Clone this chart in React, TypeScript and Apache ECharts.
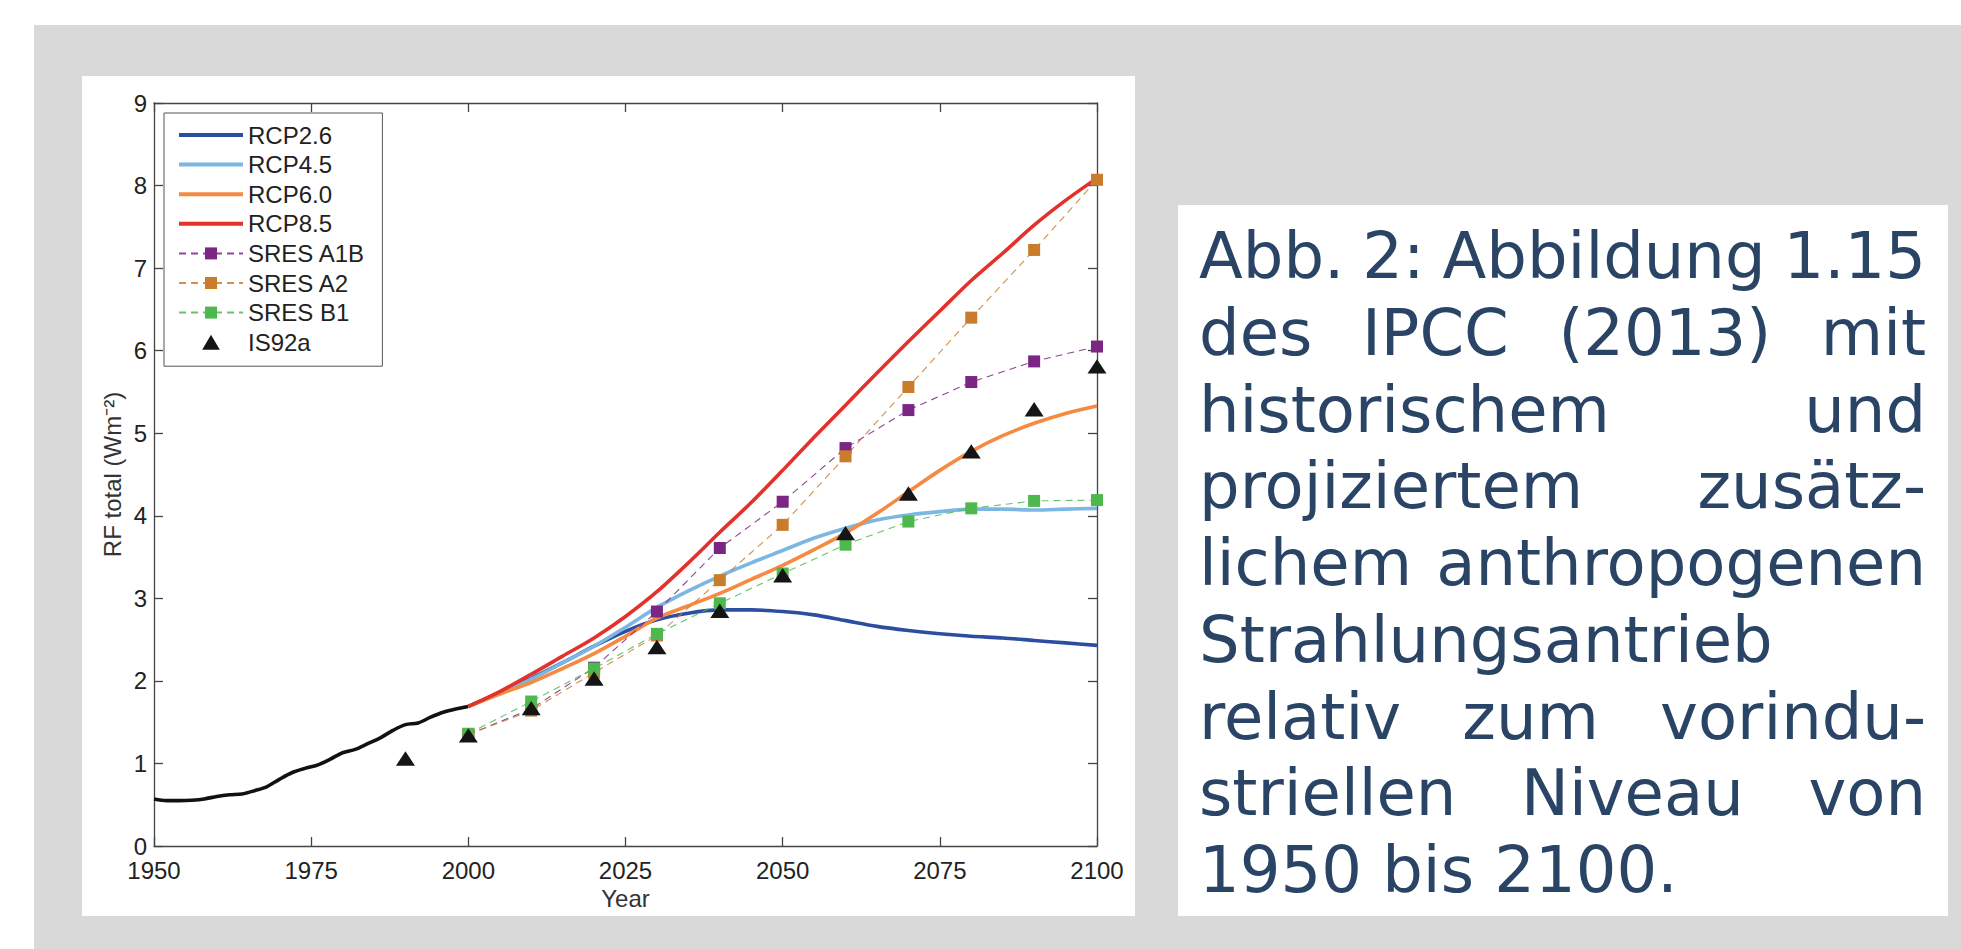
import React, { useEffect, useRef } from "react";
import * as echarts from "echarts";

// ---------- data ----------
const xTicks = [1950, 1975, 2000, 2025, 2050, 2075, 2100];

const histYears = [1950, 1952, 1954, 1956, 1958, 1960, 1962, 1964, 1966, 1968, 1970, 1972, 1974, 1976, 1978, 1980, 1982, 1984, 1986, 1988, 1990, 1992, 1994, 1996, 1998, 2000];
const histValues = [0.57, 0.55, 0.55, 0.555, 0.57, 0.6, 0.62, 0.63, 0.67, 0.72, 0.81, 0.89, 0.94, 0.98, 1.05, 1.13, 1.17, 1.24, 1.31, 1.4, 1.47, 1.49, 1.56, 1.62, 1.66, 1.69];

const rcpYears = [2000, 2005, 2010, 2015, 2020, 2025, 2030, 2035, 2040, 2045, 2050, 2055, 2060, 2065, 2070, 2075, 2080, 2085, 2090, 2095, 2100];
const rcp26 = [1.69, 1.86, 2.03, 2.22, 2.42, 2.6, 2.74, 2.82, 2.86, 2.86, 2.84, 2.8, 2.73, 2.66, 2.61, 2.57, 2.54, 2.52, 2.49, 2.46, 2.43];
const rcp45 = [1.69, 1.85, 2.02, 2.22, 2.42, 2.65, 2.89, 3.09, 3.27, 3.43, 3.58, 3.73, 3.85, 3.95, 4.01, 4.05, 4.08, 4.08, 4.07, 4.08, 4.09];
const rcp60 = [1.69, 1.84, 1.98, 2.15, 2.33, 2.54, 2.76, 2.91, 3.06, 3.23, 3.4, 3.59, 3.79, 4.03, 4.29, 4.55, 4.78, 4.97, 5.12, 5.24, 5.33];
const rcp85 = [1.69, 1.87, 2.08, 2.3, 2.52, 2.78, 3.08, 3.43, 3.8, 4.16, 4.55, 4.95, 5.34, 5.73, 6.11, 6.48, 6.85, 7.18, 7.52, 7.82, 8.09];

const sresYears = [2000, 2010, 2020, 2030, 2040, 2050, 2060, 2070, 2080, 2090, 2100];
const sresA1B = [1.35, 1.66, 2.16, 2.84, 3.61, 4.17, 4.82, 5.28, 5.62, 5.87, 6.05];
const sresA2 = [1.35, 1.64, 2.1, 2.55, 3.22, 3.89, 4.72, 5.56, 6.4, 7.22, 8.07];
const sresB1 = [1.36, 1.75, 2.15, 2.57, 2.94, 3.3, 3.65, 3.93, 4.09, 4.18, 4.19];

const is92aYears = [1990, 2000, 2010, 2020, 2030, 2040, 2050, 2060, 2070, 2080, 2090, 2100];
const is92a = [1.06, 1.34, 1.67, 2.03, 2.41, 2.85, 3.28, 3.79, 4.27, 4.78, 5.29, 5.81];

const rcpNames = ["RCP2.6", "RCP4.5", "RCP6.0", "RCP8.5"];
const sresNames = ["SRES A1B", "SRES A2", "SRES B1"];
const markerName = "IS92a";

const captionLines: { words: string[]; justify: boolean }[] = [
  { words: ["Abb.", "2:", "Abbildung", "1.15"], justify: true },
  { words: ["des", "IPCC", "(2013)", "mit"], justify: true },
  { words: ["historischem", "und"], justify: true },
  { words: ["projiziertem", "zusätz-"], justify: true },
  { words: ["lichem", "anthropogenen"], justify: true },
  { words: ["Strahlungsantrieb"], justify: false },
  { words: ["relativ", "zum", "vorindu-"], justify: true },
  { words: ["striellen", "Niveau", "von"], justify: true },
  { words: ["1950 bis 2100."], justify: false },
];

// ---------- styles ----------
const W = 1961;
const H = 949;
const AXIS_FONT = '"Liberation Sans", Arial, Helvetica, sans-serif';
const CAPTION_FONT = '"DejaVu Sans", sans-serif';
const CAPTION_SIZE = 64;
const CAPTION_LEFT = 1199;
const CAPTION_RIGHT = 1926;
const CAPTION_BASE0 = 278;
const CAPTION_STEP = 76.75;
const CAPTION_MID = 22;
const CAPTION_COLOR = "#2a4466";
const AXIS_COLOR = "#444";
const TRIANGLE_ICON = "path://M10,0L20,17L0,17Z";

const colors: Record<string, string> = {
  hist: "#111111",
  "RCP2.6": "#2c4ea0",
  "RCP4.5": "#7cb7e3",
  "RCP6.0": "#f58a42",
  "RCP8.5": "#e2322b",
  "SRES A1B": "#7b2584",
  "SRES A2": "#c97d2b",
  "SRES B1": "#4cb84e",
  IS92a: "#151515",
};

const zip = (xs: number[], ys: number[]) => xs.map((x, i) => [x, ys[i]]);

export default function App() {
  const ref = useRef<HTMLDivElement>(null);

  useEffect(() => {
    if (!ref.current) return;
    const chart = echarts.init(ref.current, null, { renderer: "svg" });

    // caption layout (justified like the original)
    const canvas = document.createElement("canvas");
    const ctx = canvas.getContext("2d")!;
    ctx.font = `${CAPTION_SIZE}px ${CAPTION_FONT}`;
    const captionEls: any[] = [];
    captionLines.forEach((line, i) => {
      const y = CAPTION_BASE0 + i * CAPTION_STEP - CAPTION_MID;
      const baseStyle = {
        fontFamily: CAPTION_FONT,
        fontSize: CAPTION_SIZE,
        lineHeight: 66,
        fill: CAPTION_COLOR,
        align: "left",
        verticalAlign: "middle",
      };
      if (!line.justify || line.words.length < 2) {
        captionEls.push({ type: "text", x: CAPTION_LEFT, y, silent: true, style: { ...baseStyle, text: line.words.join(" ") } });
      } else {
        const widths = line.words.map((w) => ctx.measureText(w).width);
        const total = widths.reduce((a, b) => a + b, 0);
        const gap = (CAPTION_RIGHT - CAPTION_LEFT - total) / (line.words.length - 1);
        let x = CAPTION_LEFT;
        line.words.forEach((w, j) => {
          captionEls.push({ type: "text", x, y, silent: true, style: { ...baseStyle, text: w } });
          x += widths[j] + gap;
        });
      }
    });

    const axisCommon = {
      type: "value" as const,
      axisLine: { show: true, onZero: false, lineStyle: { color: AXIS_COLOR, width: 1.3 } },
      axisTick: { show: true, inside: true, length: 9, lineStyle: { color: AXIS_COLOR, width: 1.3 } },
      splitLine: { show: false },
    };

    const rcpLine = (name: string, data: number[]) => ({
      name,
      type: "line",
      data: zip(rcpYears, data),
      symbol: "none",
      smooth: 0.3,
      lineStyle: { color: colors[name], width: 3.6 },
      itemStyle: { color: colors[name] },
      z: 3,
    });

    const sresLine = (name: string, data: number[]) => ({
      name,
      type: "line",
      data: zip(sresYears, data),
      symbol: "rect",
      symbolSize: 12,
      showSymbol: true,
      lineStyle: { color: colors[name], width: 1.1, type: [7, 5], opacity: 0.85 },
      itemStyle: { color: colors[name] },
      z: 4,
    });

    const legendData = [
      ...rcpNames.map((n) => ({ name: n, itemStyle: { opacity: 0 }, lineStyle: { width: 4 } })),
      ...sresNames.map((n) => ({ name: n })),
      { name: markerName, icon: TRIANGLE_ICON, itemStyle: { color: colors.IS92a, borderWidth: 0 } },
    ];

    chart.setOption({
      animation: false,
      backgroundColor: "#ffffff",
      graphic: [
        { type: "rect", z: -10, silent: true, shape: { x: 34, y: 25, width: W - 34, height: H - 25 }, style: { fill: "#d9d9d9" } },
        { type: "rect", z: -9, silent: true, shape: { x: 82, y: 76, width: 1135 - 82, height: 916 - 76 }, style: { fill: "#ffffff" } },
        { type: "rect", z: -9, silent: true, shape: { x: 1178, y: 205, width: 1948 - 1178, height: 916 - 205 }, style: { fill: "#ffffff" } },
        ...captionEls,
      ],
      grid: { left: 154, right: W - 1097, top: 103, bottom: H - 846, containLabel: false },
      legend: {
        orient: "vertical",
        left: 164,
        top: 113,
        data: legendData,
        itemWidth: 64,
        itemHeight: 15,
        itemGap: 5.6,
        symbolKeepAspect: true,
        padding: [10, 17, 12, 13],
        backgroundColor: "#ffffff",
        borderColor: "#555",
        borderWidth: 1,
        selectedMode: false,
        textStyle: { fontFamily: AXIS_FONT, fontSize: 24, color: "#222", lineHeight: 24 },
      },
      xAxis: [
        {
          ...axisCommon,
          position: "bottom",
          min: 1950,
          max: 2100,
          interval: 25,
          axisLabel: {
            fontFamily: AXIS_FONT,
            fontSize: 24,
            color: "#222",
            margin: 12,
            customValues: xTicks,
            formatter: (v: number) => String(v),
          },
          name: "Year",
          nameLocation: "middle",
          nameGap: 40,
          nameTextStyle: { fontFamily: AXIS_FONT, fontSize: 24, color: "#333" },
        },
        {
          ...axisCommon,
          position: "top",
          min: 1950,
          max: 2100,
          interval: 25,
          axisLabel: { show: false },
        },
      ],
      yAxis: [
        {
          ...axisCommon,
          position: "left",
          min: 0,
          max: 9,
          interval: 1,
          axisLabel: { fontFamily: AXIS_FONT, fontSize: 24, color: "#222", margin: 7 },
          name: "RF total (Wm⁻²)",
          nameLocation: "middle",
          nameGap: 30,
          nameTextStyle: { fontFamily: AXIS_FONT, fontSize: 24, color: "#333" },
        },
        {
          ...axisCommon,
          position: "right",
          min: 0,
          max: 9,
          interval: 1,
          axisLabel: { show: false },
        },
      ],
      series: [
        {
          name: "Historical",
          type: "line",
          data: zip(histYears, histValues),
          symbol: "none",
          smooth: 0.3,
          lineStyle: { color: colors.hist, width: 3.6 },
          itemStyle: { color: colors.hist },
          z: 3,
        },
        rcpLine("RCP2.6", rcp26),
        rcpLine("RCP4.5", rcp45),
        rcpLine("RCP6.0", rcp60),
        rcpLine("RCP8.5", rcp85),
        sresLine("SRES A1B", sresA1B),
        sresLine("SRES A2", sresA2),
        sresLine("SRES B1", sresB1),
        {
          name: markerName,
          type: "scatter",
          data: zip(is92aYears, is92a),
          symbol: TRIANGLE_ICON,
          symbolKeepAspect: true,
          symbolSize: [19, 17],
          itemStyle: { color: colors.IS92a, opacity: 1 },
          z: 5,
        },
      ],
    });

    return () => chart.dispose();
  }, []);

  return (
    <div
      ref={ref}
      style={{ position: "fixed", left: 0, top: 0, width: W, height: H }}
    />
  );
}
